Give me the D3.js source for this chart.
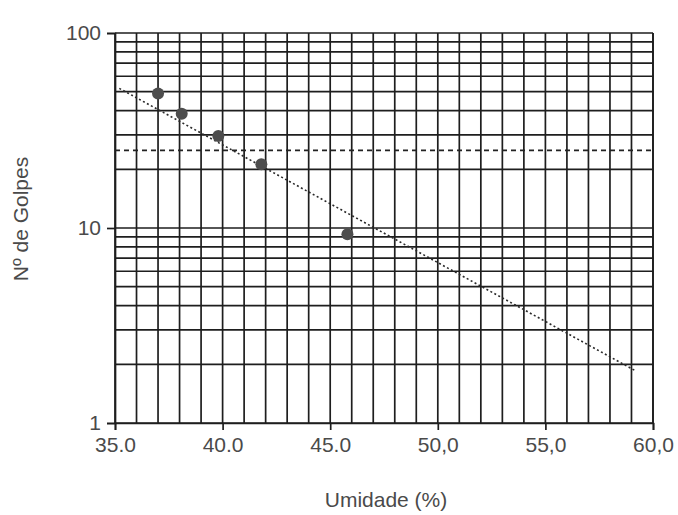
<!DOCTYPE html>
<html>
<head>
<meta charset="utf-8">
<script src="https://cdn.jsdelivr.net/npm/d3@7"></script>
<style>
  html, body { margin: 0; padding: 0; background: #ffffff; }
  svg { display: block; }
  text { font-family: "Liberation Sans", Arial, sans-serif; fill: #3a3a3a; }
</style>
</head>
<body>
<svg id="chart" width="678" height="515"></svg>
<script>
// ---- data ----
const umidade = [37.0, 38.1, 39.8, 41.8, 45.8];
const golpes = [49, 38.5, 29.6, 21.2, 9.3];
const trendUmidade = [35.2, 59.2];
const trendGolpes = [52, 1.85];
const refGolpes = [25];
const xTickValues = [35, 40, 45, 50, 55, 60];
const xTickLabels = ["35.0", "40.0", "45.0", "50,0", "55,0", "60,0"];
const yTickValues = [1, 10, 100];
const yTickLabels = ["1", "10", "100"];
const xTitle = "Umidade (%)";
const yTitle = "Nº de Golpes";

// ---- layout ----
const svg = d3.select("#chart");
const pLeft = 115, pRight = 653, pTop = 33, pBottom = 423;
const x = d3.scaleLinear().domain([35, 60]).range([pLeft, pRight]);
const y = d3.scaleLog().domain([1, 100]).range([pBottom, pTop]);
const gridColor = "#1e1e1e";
const textColor = "#4a4a4a";
const fontSize = 21;

// vertical grid (every 1%)
const vLines = d3.range(35, 61, 1);
svg.append("g").selectAll("line").data(vLines).join("line")
  .attr("x1", d => x(d)).attr("x2", d => x(d))
  .attr("y1", pTop).attr("y2", pBottom)
  .attr("stroke", gridColor).attr("stroke-width", 1.7);

// horizontal log grid
const hLines = [];
[1, 10].forEach(dec => { for (let k = 1; k <= 9; k++) hLines.push(dec * k); });
hLines.push(100);
svg.append("g").selectAll("line").data(hLines).join("line")
  .attr("x1", pLeft).attr("x2", pRight)
  .attr("y1", d => y(d)).attr("y2", d => y(d))
  .attr("stroke", gridColor).attr("stroke-width", 1.7);

// axes with ticks
const xAxis = d3.axisBottom(x).tickValues(xTickValues)
  .tickFormat((d, i) => xTickLabels[i]).tickSize(7).tickPadding(7);
const gx = svg.append("g").attr("transform", `translate(0,${pBottom})`).call(xAxis);
gx.select(".domain").attr("stroke", gridColor).attr("stroke-width", 1.7);
gx.selectAll(".tick line").attr("stroke", gridColor).attr("stroke-width", 1.7);
gx.selectAll(".tick text").attr("font-size", fontSize).style("fill", textColor)
  .attr("font-family", "Liberation Sans, Arial, sans-serif");

const yAxis = d3.axisLeft(y).tickValues(yTickValues)
  .tickFormat((d, i) => yTickLabels[i]).tickSize(8).tickPadding(6);
const gy = svg.append("g").attr("transform", `translate(${pLeft},0)`).call(yAxis);
gy.select(".domain").attr("stroke", gridColor).attr("stroke-width", 1.7);
gy.selectAll(".tick line").attr("stroke", gridColor).attr("stroke-width", 1.7);
gy.selectAll(".tick text").attr("font-size", fontSize).style("fill", textColor)
  .attr("font-family", "Liberation Sans, Arial, sans-serif");

// right border
svg.append("line").attr("x1", pRight).attr("x2", pRight).attr("y1", pTop).attr("y2", pBottom)
  .attr("stroke", gridColor).attr("stroke-width", 1.7);

// reference dashed line at 25 blows
svg.append("g").selectAll("line").data(refGolpes).join("line")
  .attr("x1", pLeft).attr("x2", pRight)
  .attr("y1", d => y(d)).attr("y2", d => y(d))
  .attr("stroke", "#222").attr("stroke-width", 1.8)
  .attr("stroke-dasharray", "5,4");

// trend line
const trend = trendUmidade.map((u, i) => [u, trendGolpes[i]]);
svg.append("path").datum(trend)
  .attr("d", d3.line().x(d => x(d[0])).y(d => y(d[1])))
  .attr("fill", "none").attr("stroke", "#2a2a2a").attr("stroke-width", 1.6)
  .attr("stroke-dasharray", "2,2.5");

// points
svg.append("g").selectAll("circle").data(umidade).join("circle")
  .attr("cx", d => x(d)).attr("cy", (d, i) => y(golpes[i]))
  .attr("r", 6).attr("fill", "#4d4d4d");

// titles
svg.append("text").attr("x", 386).attr("y", 507).attr("text-anchor", "middle")
  .attr("font-size", fontSize).style("fill", textColor).text(xTitle);
svg.append("text").attr("transform", "translate(28,219) rotate(-90)")
  .attr("text-anchor", "middle").attr("font-size", fontSize).style("fill", textColor).text(yTitle);
</script>
</body>
</html>
